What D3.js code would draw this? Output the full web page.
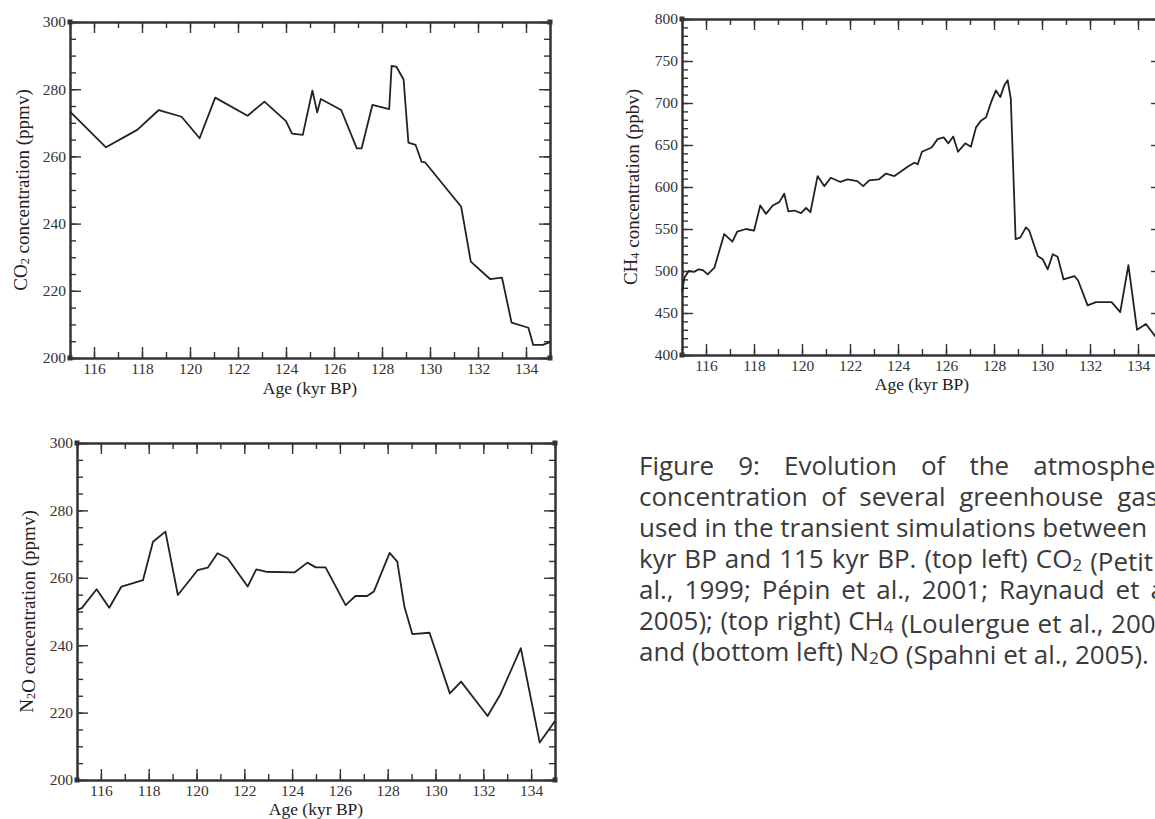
<!DOCTYPE html>
<html>
<head>
<meta charset="utf-8">
<script src="https://cdn.jsdelivr.net/npm/d3@7"></script>
<style>
  html, body { margin: 0; padding: 0; background: #fff; overflow: hidden; }
  svg { display: block; }
  .tick text { font-family: "Liberation Serif", "DejaVu Serif", serif; font-size: 15.5px; fill: #333; }
  .tick line { stroke: #333; stroke-width: 1.4; }
  .domain { stroke: #333; stroke-width: 2; }
  .xtitle { font-family: "Liberation Serif", serif; font-size: 17.5px; fill: #222; }
  .ytitle { font-family: "Liberation Serif", serif; font-size: 19px; fill: #222; }
  .caption { font-family: "Open Sans", sans-serif; fill: #3a3a3a; }
</style>
</head>
<body>
<svg id="fig" width="1155" height="819"></svg>
<script>
// ---- data ----
var co2Age  = [115.0, 116.5, 117.8, 118.7, 119.65, 120.4, 121.05, 122.4, 123.1, 124.0, 124.25, 124.7, 125.1, 125.3, 125.45, 126.3, 126.95, 127.15, 127.6, 128.3, 128.4, 128.6, 128.9, 129.1, 129.4, 129.65, 129.8, 131.3, 131.7, 132.5, 133.0, 133.4, 134.1, 134.3, 134.7, 135.0];
var co2Ppmv = [273.3, 262.7, 267.9, 273.8, 271.8, 265.4, 277.5, 272.1, 276.3, 270.5, 266.8, 266.4, 279.6, 273.1, 277.1, 273.8, 262.4, 262.4, 275.3, 274.1, 286.9, 286.7, 282.9, 264.1, 263.4, 258.4, 258.2, 245.0, 228.7, 223.5, 223.9, 210.5, 209.0, 203.9, 203.9, 204.7];

var ch4Age  = [115.0, 115.1, 115.28, 115.5, 115.7, 115.87, 116.07, 116.35, 116.76, 117.1, 117.3, 117.67, 118.0, 118.26, 118.5, 118.78, 119.05, 119.26, 119.43, 119.68, 119.96, 120.17, 120.35, 120.65, 120.93, 121.2, 121.6, 121.9, 122.3, 122.55, 122.8, 123.2, 123.5, 123.85, 124.05, 124.4, 124.68, 124.82, 125.0, 125.4, 125.65, 125.9, 126.1, 126.3, 126.5, 126.8, 127.04, 127.25, 127.46, 127.67, 127.88, 128.08, 128.26, 128.43, 128.57, 128.7, 128.9, 129.1, 129.33, 129.47, 129.82, 130.03, 130.24, 130.45, 130.65, 130.9, 131.35, 131.5, 131.9, 132.25, 132.9, 133.26, 133.6, 133.96, 134.33, 134.75, 135.0];
var ch4Ppbv = [475, 492, 500, 499, 502, 501, 496, 504, 544, 535, 547, 550, 548, 578, 568, 578, 582, 592, 571, 572, 569, 575, 570, 613, 601, 611, 606, 609, 607, 601, 608, 609, 616, 613, 617, 624, 629, 627, 642, 647, 657, 659, 652, 660, 642, 652, 648, 671, 679, 683, 701, 715, 707, 721, 727, 705, 538, 540, 552, 548, 518, 514, 502, 520, 517, 490, 494, 489, 459, 463, 463, 451, 507, 430, 437, 421, 412];

var n2oAge  = [115.0, 115.2, 115.82, 116.35, 116.86, 117.35, 117.76, 118.18, 118.7, 119.22, 120.05, 120.47, 120.88, 121.3, 122.14, 122.5, 122.9, 124.1, 124.64, 124.99, 125.4, 126.24, 126.65, 127.14, 127.42, 128.08, 128.4, 128.7, 129.03, 129.75, 130.6, 131.07, 132.18, 132.7, 133.57, 134.36, 135.0];
var n2oPpmv = [250.5, 251.0, 256.6, 251.1, 257.4, 258.4, 259.3, 270.7, 273.7, 254.9, 262.3, 263.0, 267.3, 265.8, 257.4, 262.5, 261.8, 261.6, 264.5, 263.1, 263.1, 251.9, 254.6, 254.6, 255.9, 267.4, 264.8, 251.4, 243.3, 243.7, 225.7, 229.2, 219.0, 225.2, 239.1, 211.1, 217.5];

var ageDomain = [115, 135];
var ageTicks = [116, 118, 120, 122, 124, 126, 128, 130, 132, 134];
var ageMinor = d3.range(115, 136, 1);
var co2Ticks = [200, 220, 240, 260, 280, 300];
var ch4Ticks = [400, 450, 500, 550, 600, 650, 700, 750, 800];
var n2oTicks = [200, 220, 240, 260, 280, 300];

var captionLines = [
  "Figure 9: Evolution of the atmospheric",
  "concentration of several greenhouse gases",
  "used in the transient simulations between 135",
  "kyr BP and 115 kyr BP. (top left) CO_2 (Petit et",
  "al., 1999; Pépin et al., 2001; Raynaud et al.,",
  "2005); (top right) CH_4 (Loulergue et al., 2008);",
  "and (bottom left) N_2O (Spahni et al., 2005)."
];

var svg = d3.select("#fig");

function addLabel(text, parts) {
  // parts like ["CO", "_2", " concentration"] -> subscript tspans
  parts.forEach(function (s) {
    if (s.charAt(0) === "_") {
      text.append("tspan").attr("font-size", "0.65em").attr("dy", "0.2em").text(s.slice(1));
      text.append("tspan").attr("dy", "-0.2em").text("");
    } else {
      text.append("tspan").text(s);
    }
  });
}

function drawPanel(p) {
  var w = p.right - p.left, h = p.bottom - p.top;
  var g = svg.append("g").attr("transform", "translate(" + p.left + "," + p.top + ")");
  var x = d3.scaleLinear().domain(ageDomain).range([0, w]);
  var y = d3.scaleLinear().domain(p.yDomain).range([h, 0]);

  var sides = [
    { make: d3.axisBottom, s: x, tr: [0, h], major: ageTicks, minor: ageMinor, lab: true, pad: 5 },
    { make: d3.axisTop,    s: x, tr: [0, 0], major: ageTicks, minor: ageMinor, lab: false },
    { make: d3.axisLeft,   s: y, tr: [0, 0], major: p.yTicks, minor: p.yMinor, lab: true, pad: 4 },
    { make: d3.axisRight,  s: y, tr: [w, 0], major: p.yTicks, minor: p.yMinor, lab: false }
  ];
  sides.forEach(function (sd) {
    g.append("g").attr("transform", "translate(" + sd.tr + ")")
      .call(sd.make(sd.s).tickValues(sd.minor).tickSize(-6).tickSizeOuter(0).tickFormat(""));
    g.append("g").attr("transform", "translate(" + sd.tr + ")")
      .call(sd.make(sd.s).tickValues(sd.major).tickSize(-11).tickSizeOuter(0)
        .tickPadding(sd.pad || 0).tickFormat(sd.lab ? d3.format("d") : ""));
  });

  // little corner squares
  [[0, 0], [w, 0], [0, h], [w, h]].forEach(function (c) {
    g.append("rect").attr("x", c[0] - 2.5).attr("y", c[1] - 2.5)
      .attr("width", 5).attr("height", 5).attr("fill", "#333");
  });

  var line = d3.line().x(function (d) { return x(d[0]); }).y(function (d) { return y(d[1]); });
  g.append("path")
    .datum(d3.zip(p.ages, p.values))
    .attr("d", line)
    .attr("fill", "none")
    .attr("stroke", "#222")
    .attr("stroke-width", 1.8)
    .attr("stroke-linejoin", "round");

  g.append("text").attr("class", "xtitle")
    .attr("x", w / 2).attr("y", h + p.xTitleDy)
    .attr("text-anchor", "middle").text("Age (kyr BP)");

  var yt = g.append("text").attr("class", "ytitle")
    .attr("transform", "translate(" + p.yTitleX + "," + (h / 2) + ") rotate(-90)")
    .attr("text-anchor", "middle");
  addLabel(yt, p.yTitle);
}

drawPanel({ left: 70, top: 22, right: 550, bottom: 358, yDomain: [200, 300],
  yTicks: co2Ticks, yMinor: d3.range(200, 301, 5), ages: co2Age, values: co2Ppmv,
  xTitleDy: 36, yTitleX: -43, yTitle: ["CO", "_2", " concentration (ppmv)"] });

drawPanel({ left: 682, top: 19, right: 1162, bottom: 355, yDomain: [400, 800],
  yTicks: ch4Ticks, yMinor: d3.range(400, 801, 10), ages: ch4Age, values: ch4Ppbv,
  xTitleDy: 35, yTitleX: -45, yTitle: ["CH", "_4", " concentration (ppbv)"] });

drawPanel({ left: 77, top: 443, right: 555, bottom: 780, yDomain: [200, 300],
  yTicks: n2oTicks, yMinor: d3.range(200, 301, 5), ages: n2oAge, values: n2oPpmv,
  xTitleDy: 34.5, yTitleX: -44, yTitle: ["N", "_2", "O concentration (ppmv)"] });

// ---- caption, justified line by line ----
var capX = 639, capY0 = 475, capLead = 31, capW = 546, lastW = 510;
var cap = svg.append("g");
var texts = captionLines.map(function (ln, i) {
  var t = cap.append("text").attr("class", "caption")
    .attr("x", capX).attr("y", capY0 + i * capLead).attr("font-size", 18);
  addLabel(t, ln.split(/(_\d)/).filter(function (s) { return s.length; }));
  return t;
});
// pick a font size so the last (unjustified) line fits its measured width
var natural = texts[texts.length - 1].node().getComputedTextLength();
var fs = 18 * lastW / natural;
texts.forEach(function (t, i) {
  t.attr("font-size", fs);
  if (i === texts.length - 1) return;
  var len = t.node().getComputedTextLength();
  var spaces = (captionLines[i].match(/ /g) || []).length;
  if (spaces) t.attr("word-spacing", Math.max(0, (capW - len) / spaces));
});
</script>
</body>
</html>
